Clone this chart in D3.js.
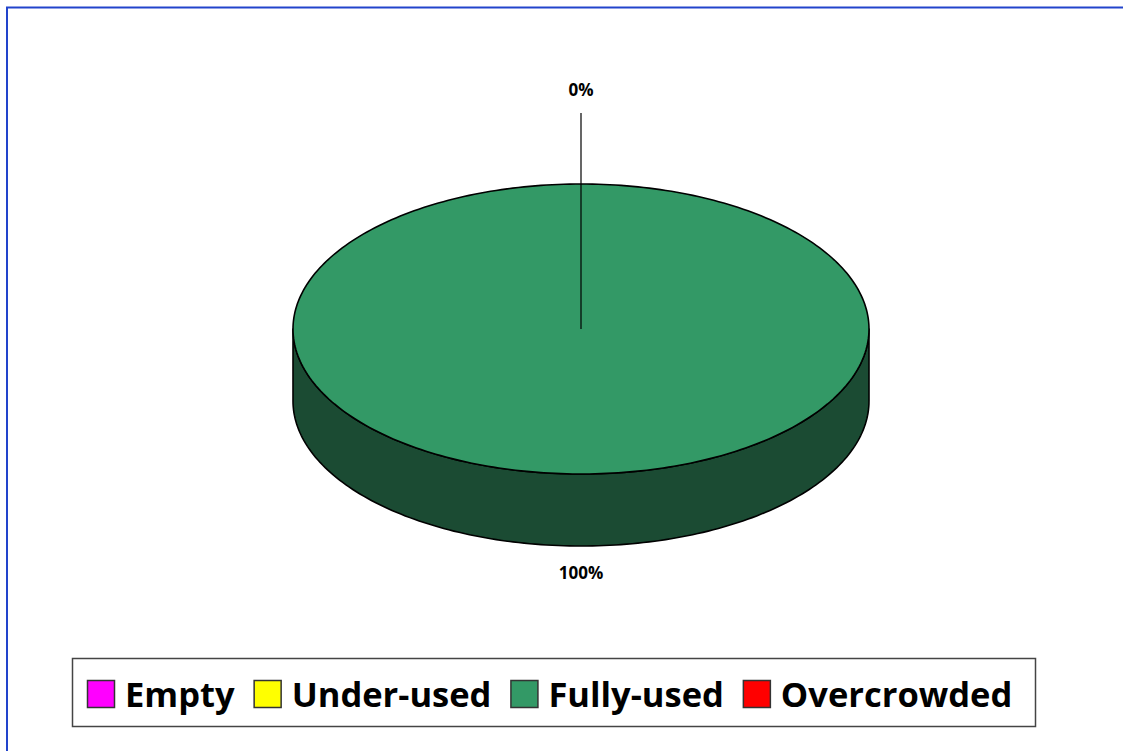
<!DOCTYPE html>
<html>
<head>
<style>
  body { margin: 0; background: #fff; }
  text { font-family: "Open Sans", "DejaVu Sans", sans-serif; font-weight: bold; }
</style>
</head>
<body>
<script src="https://cdn.jsdelivr.net/npm/d3@7"></script>
<script>
var categories = ['Empty', 'Under-used', 'Fully-used', 'Overcrowded'];
var values = [0, 0, 100, 0];
var topColors = ['#ff00ff', '#ffff00', '#339966', '#ff0000'];
var sideColors = ['#990099', '#999900', '#1b4b33', '#990000'];

var width = 1123, height = 751;
var svg = d3.select('body').append('svg')
    .attr('width', width).attr('height', height);

// outer frame (right and bottom edges fall outside the picture)
svg.append('rect')
    .attr('x', 7).attr('y', 7.5).attr('width', width + 10).attr('height', height + 10)
    .attr('fill', 'none').attr('stroke', '#2244cc').attr('stroke-width', 2);

var cx = 581, cy = 329, rx = 288, ry = 145, depth = 72;

var pie = d3.pie().sort(null).value(function (d) { return d; });
var arcs = pie(values);

function pt(a, dy) {
    return [cx + rx * Math.sin(a), cy - ry * Math.cos(a) + (dy || 0)];
}

function topPath(d) {
    var a0 = d.startAngle, a1 = d.endAngle;
    var n = Math.max(2, Math.ceil((a1 - a0) / 0.02));
    var pts = d3.range(n + 1).map(function (i) { return pt(a0 + (a1 - a0) * i / n); });
    var full = (a1 - a0) >= 2 * Math.PI - 1e-6;
    if (full) return d3.line()(pts) + 'Z';
    return 'M' + cx + ',' + cy + 'L' + d3.line()(pts).slice(1) + 'Z';
}

function sidePath(d) {
    // visible front part: angles between PI/2 and 3PI/2
    var a0 = Math.max(d.startAngle, Math.PI / 2), a1 = Math.min(d.endAngle, 3 * Math.PI / 2);
    if (a1 <= a0) return null;
    var n = Math.max(2, Math.ceil((a1 - a0) / 0.02));
    var upper = d3.range(n + 1).map(function (i) { return pt(a0 + (a1 - a0) * i / n); });
    var lower = upper.map(function (p) { return [p[0], p[1] + depth]; }).reverse();
    return d3.line()(upper.concat(lower)) + 'Z';
}

var g = svg.append('g');
arcs.forEach(function (d, i) {
    if (d.value <= 0) return;
    var sp = sidePath(d);
    if (sp) g.append('path').attr('d', sp)
        .attr('fill', sideColors[i]).attr('stroke', '#000').attr('stroke-width', 1.6)
        .attr('stroke-linejoin', 'round');
});
arcs.forEach(function (d, i) {
    if (d.value <= 0) return;
    g.append('path').attr('d', topPath(d))
        .attr('fill', topColors[i]).attr('stroke', '#000').attr('stroke-width', 1.6);
});

// labels
var total = d3.sum(values);
var pct = function (v) { return Math.round(v / total * 100) + '%'; };
var zeroShown = false;
arcs.forEach(function (d, i) {
    var mid = (d.startAngle + d.endAngle) / 2;
    if (d.value === 0) {
        if (zeroShown) return;
        zeroShown = true;
        svg.append('line')
            .attr('x1', cx).attr('y1', cy)
            .attr('x2', cx + rx * Math.sin(mid)).attr('y2', 113)
            .attr('stroke', '#000').attr('stroke-width', 1.2);
        svg.append('text').attr('x', cx).attr('y', 96)
            .attr('text-anchor', 'middle').attr('font-size', 17)
            .text(pct(d.value));
    } else {
        var q = pt(mid, depth);
        svg.append('text').attr('x', q[0]).attr('y', q[1] + 33)
            .attr('text-anchor', 'middle').attr('font-size', 17)
            .text(pct(d.value));
    }
});

// legend
var legend = svg.append('g');
legend.append('rect')
    .attr('x', 72.5).attr('y', 658.5).attr('width', 963).attr('height', 68)
    .attr('fill', '#fff').attr('stroke', '#444').attr('stroke-width', 1.5);
var lx = 87, fs = 34.5;
categories.forEach(function (c, i) {
    legend.append('rect')
        .attr('x', lx + 0.5).attr('y', 680.5).attr('width', 27).attr('height', 27)
        .attr('fill', topColors[i]).attr('stroke', '#333').attr('stroke-width', 1.5);
    var t = legend.append('text').attr('x', lx + 38).attr('y', 707)
        .attr('font-size', fs).text(c);
    lx += 38 + t.node().getComputedTextLength() + 19;
});
</script>
</body>
</html>
